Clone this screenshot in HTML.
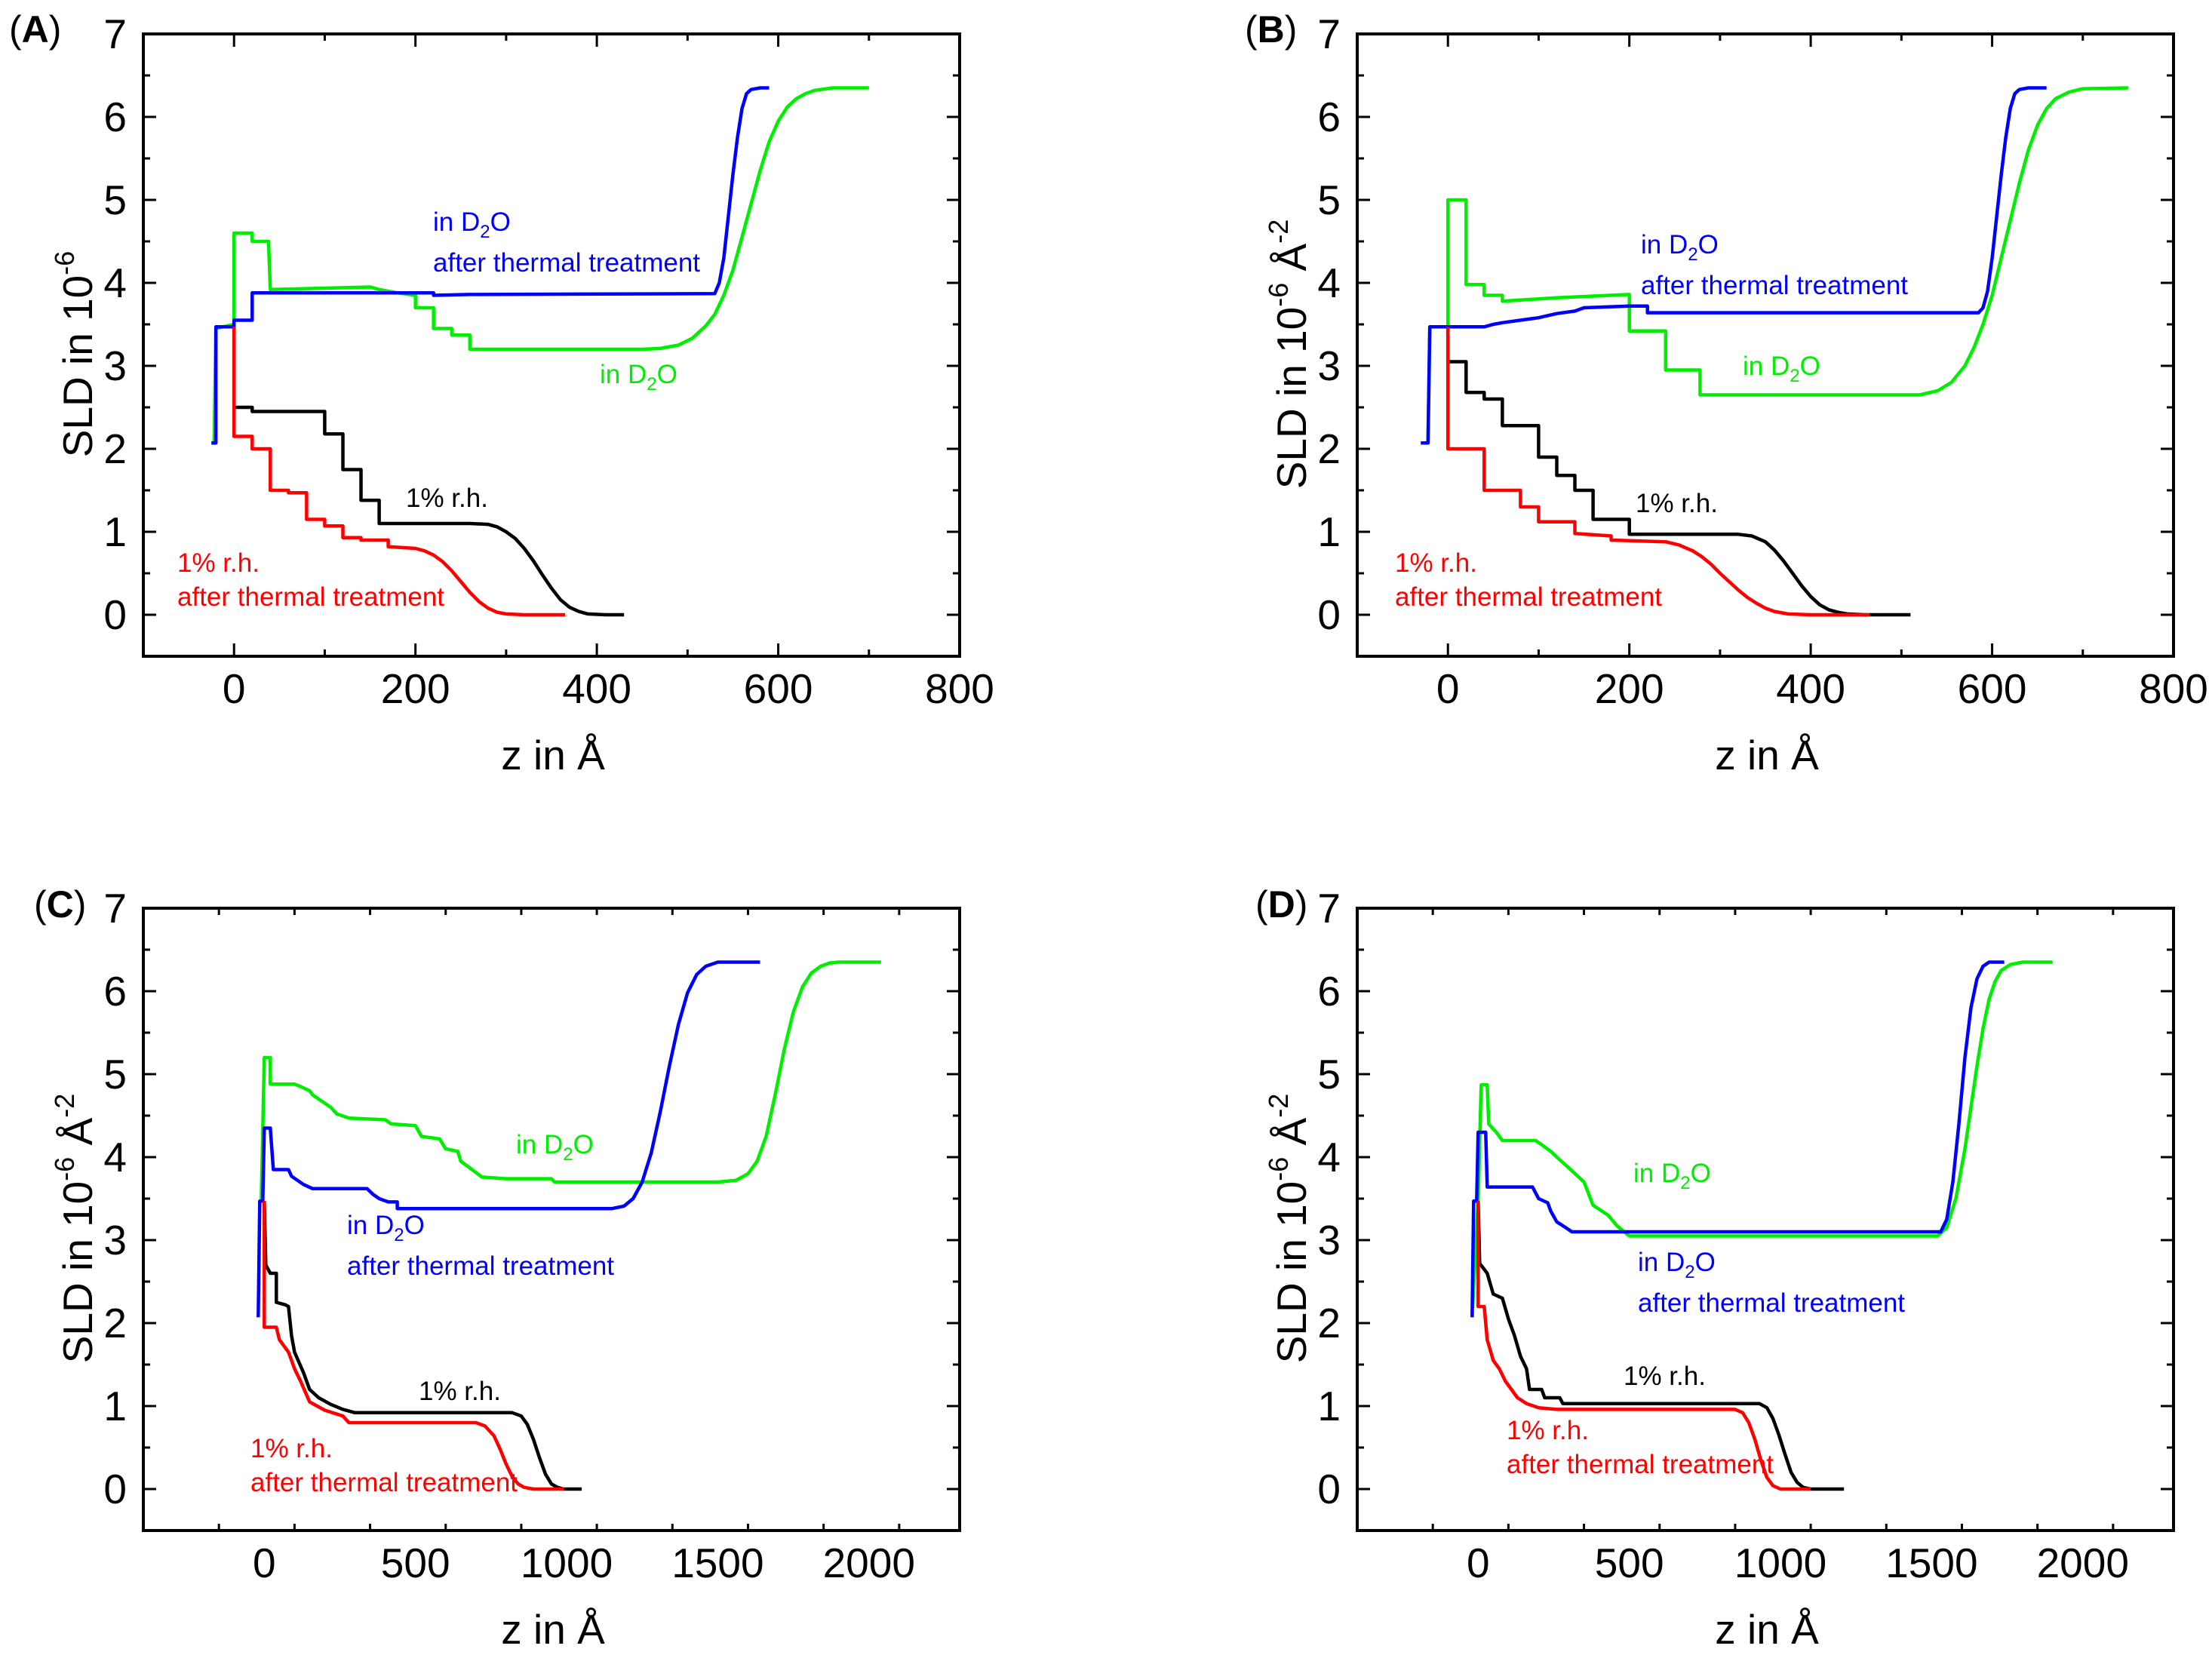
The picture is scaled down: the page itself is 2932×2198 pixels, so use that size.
<!DOCTYPE html>
<html><head><meta charset="utf-8"><style>
html,body{margin:0;padding:0;background:#fff;}
svg{display:block;font-family:"Liberation Sans",sans-serif;}
</style></head><body>
<svg id="fig" width="2932" height="2198" viewBox="0 0 2932 2198" xmlns="http://www.w3.org/2000/svg"></svg>
<script>
// ---------- data (z in Å, SLD in 1e-6 Å^-2) ----------
const A_blueZ=[-25,-20,-20,0,0,20,20,220,220,260,530,535,540,545,550,555,560,565,570,580,590];
const A_blueY=[2.07,2.07,3.47,3.47,3.55,3.55,3.88,3.88,3.85,3.86,3.87,4.0,4.3,4.8,5.3,5.75,6.1,6.28,6.33,6.35,6.35];
const A_greenZ=[-22,-20,0,0,20,20,38,40,150,160,180,200,200,220,220,240,240,260,260,450,470,490,505,520,530,540,550,560,570,580,590,600,610,620,630,640,660,700];
const A_greenY=[2.07,3.45,3.5,4.6,4.6,4.5,4.5,3.92,3.95,3.92,3.88,3.85,3.7,3.7,3.45,3.45,3.37,3.37,3.2,3.2,3.21,3.25,3.33,3.48,3.62,3.85,4.15,4.55,4.95,5.35,5.7,5.95,6.12,6.22,6.28,6.32,6.35,6.35];
const A_blackZ=[0,0,20,20,100,100,120,120,140,140,160,160,260,280,290,300,310,320,330,340,350,360,370,380,390,410,430];
const A_blackY=[3.47,2.5,2.5,2.45,2.45,2.18,2.18,1.75,1.75,1.38,1.38,1.1,1.1,1.09,1.06,1.0,0.92,0.8,0.65,0.48,0.32,0.18,0.09,0.04,0.01,0,0];
const A_redZ=[0,0,20,20,40,40,60,60,80,80,100,100,120,120,140,140,170,170,200,210,220,230,240,250,260,270,280,290,300,320,365];
const A_redY=[3.47,2.15,2.15,2.0,2.0,1.5,1.5,1.47,1.47,1.15,1.15,1.07,1.07,0.93,0.93,0.9,0.9,0.82,0.8,0.77,0.72,0.64,0.53,0.4,0.27,0.16,0.08,0.03,0.01,0,0];

const B_blueZ=[-30,-22,-20,40,50,60,100,120,140,150,200,220,220,585,590,595,600,605,610,615,620,625,630,640,660];
const B_blueY=[2.07,2.07,3.47,3.47,3.5,3.52,3.58,3.63,3.66,3.7,3.72,3.72,3.64,3.64,3.7,3.9,4.3,4.8,5.3,5.75,6.1,6.28,6.33,6.35,6.35];
const B_greenZ=[-22,-20,0,0,20,20,40,40,60,60,120,200,200,240,240,278,278,520,540,555,570,580,590,600,610,620,630,640,650,660,670,685,700,750];
const B_greenY=[2.07,3.47,3.47,5.0,5.0,3.98,3.98,3.85,3.85,3.78,3.82,3.86,3.42,3.42,2.95,2.95,2.65,2.65,2.7,2.8,3.0,3.22,3.5,3.85,4.3,4.75,5.2,5.6,5.9,6.1,6.22,6.3,6.34,6.35];
const B_blackZ=[0,0,20,20,40,40,60,60,100,100,120,120,140,140,160,160,200,200,320,335,350,360,370,380,390,400,410,420,430,440,460,510];
const B_blackY=[3.47,3.05,3.05,2.68,2.68,2.6,2.6,2.28,2.28,1.9,1.9,1.68,1.68,1.5,1.5,1.15,1.15,0.97,0.97,0.95,0.88,0.78,0.65,0.5,0.35,0.22,0.12,0.06,0.03,0.01,0,0];
const B_redZ=[0,0,40,40,80,80,100,100,140,140,180,180,240,255,270,280,290,300,310,320,330,340,350,360,375,400,465];
const B_redY=[3.47,2.0,2.0,1.5,1.5,1.3,1.3,1.12,1.12,0.98,0.95,0.9,0.88,0.84,0.77,0.7,0.61,0.5,0.4,0.3,0.21,0.14,0.08,0.04,0.01,0,0];

const C_greenZ=[-10,0,20,20,100,120,150,160,180,220,240,280,400,420,500,520,580,600,640,650,680,720,800,950,960,1500,1560,1600,1630,1660,1690,1720,1750,1780,1810,1840,1870,1900,2040];
const C_greenY=[3.47,5.2,5.2,4.88,4.88,4.85,4.8,4.75,4.7,4.6,4.52,4.47,4.45,4.4,4.38,4.25,4.22,4.1,4.07,3.95,3.87,3.76,3.74,3.74,3.7,3.7,3.72,3.8,3.95,4.25,4.75,5.3,5.75,6.05,6.22,6.3,6.34,6.35,6.35];
const C_blueZ=[-20,-15,-5,0,20,30,80,90,110,130,160,340,360,380,410,440,440,1150,1190,1220,1250,1280,1310,1340,1370,1400,1430,1460,1500,1640];
const C_blueY=[2.07,3.47,3.47,4.35,4.35,3.85,3.85,3.77,3.72,3.67,3.62,3.62,3.55,3.5,3.46,3.46,3.38,3.38,3.41,3.5,3.7,4.05,4.55,5.1,5.6,5.98,6.2,6.3,6.35,6.35];
const C_blackZ=[0,5,20,40,40,70,80,90,100,130,150,180,220,260,300,820,850,870,890,910,930,950,970,990,1050];
const C_blackY=[3.47,2.7,2.6,2.6,2.25,2.22,2.2,1.85,1.65,1.4,1.2,1.1,1.02,0.96,0.92,0.92,0.88,0.78,0.6,0.38,0.18,0.06,0.02,0,0];
const C_redZ=[0,0,40,50,80,100,120,150,200,260,280,700,730,760,780,800,820,840,860,890,990];
const C_redY=[3.47,1.95,1.95,1.8,1.65,1.45,1.3,1.05,0.95,0.88,0.8,0.8,0.76,0.64,0.48,0.3,0.15,0.06,0.02,0,0];

const D_greenZ=[-20,0,10,30,35,60,80,190,210,240,260,300,350,380,430,460,500,1520,1550,1580,1610,1630,1650,1670,1690,1710,1730,1760,1800,1900];
const D_greenY=[2.07,3.47,4.87,4.87,4.4,4.3,4.2,4.2,4.15,4.07,4.0,3.87,3.7,3.42,3.3,3.17,3.05,3.05,3.15,3.5,4.1,4.6,5.1,5.55,5.9,6.12,6.25,6.32,6.35,6.35];
const D_blueZ=[-20,-15,-5,0,25,30,180,200,230,240,260,290,310,1530,1550,1570,1590,1610,1630,1650,1670,1690,1740];
const D_blueY=[2.07,3.47,3.47,4.3,4.3,3.64,3.64,3.5,3.45,3.35,3.22,3.15,3.1,3.1,3.25,3.7,4.4,5.2,5.8,6.15,6.3,6.35,6.35];
const D_blackZ=[0,5,30,50,80,100,120,140,160,170,210,220,270,280,930,955,975,995,1015,1035,1055,1075,1100,1210];
const D_blackY=[3.47,2.72,2.6,2.35,2.3,2.05,1.85,1.6,1.45,1.2,1.2,1.1,1.1,1.03,1.03,0.98,0.85,0.65,0.42,0.2,0.08,0.02,0,0];
const D_redZ=[0,0,20,30,50,70,90,110,130,160,200,260,850,875,895,915,935,955,975,1000,1100];
const D_redY=[3.47,2.2,2.2,1.8,1.55,1.45,1.3,1.2,1.1,1.03,0.98,0.96,0.96,0.92,0.8,0.6,0.35,0.14,0.04,0,0];

const xTicksAB=[0,200,400,600,800];
const xTicksCD=[0,500,1000,1500,2000];
const yTicks=[0,1,2,3,4,5,6,7];

const NS="http://www.w3.org/2000/svg";
const svg=document.getElementById('fig');
function mk(tag,attrs,parent){const e=document.createElementNS(NS,tag);for(const k in attrs)e.setAttribute(k,attrs[k]);(parent||svg).appendChild(e);return e;}

const COL={blue:'#0000ff',green:'#00ee00',black:'#000000',red:'#ff0000'};

function panel(cfg){
  const g=mk('g',{});
  
  
  const L=cfg.left,R=cfg.left+1082,T=cfg.top,Bm=cfg.top+825;
  const sx=z=>L+(z-cfg.xmin)/(cfg.xmax-cfg.xmin)*(R-L);
  const sy=v=>Bm-(v+0.5)/7.5*(Bm-T);
  cfg.series.forEach(s=>{
    const pts=s.z.map((z,i)=>sx(z).toFixed(1)+','+sy(s.y[i]).toFixed(1)).join(' ');
    const p=mk('polyline',{points:pts,fill:'none',stroke:COL[s.c],'stroke-width':4.5,'stroke-linejoin':'round'},g);
    
    
  });
  const fr=mk('rect',{x:L,y:T,width:R-L,height:Bm-T,fill:'none',stroke:'#000','stroke-width':4},g);
  
  
  const xt=cfg.xticks, step=(xt[1]-xt[0])/2;
  for(let z=cfg.xmin;z<=cfg.xmax+1e-6;z+=step){
    const isMaj=xt.some(t=>Math.abs(t-z)<1e-6);
    const x=sx(z);const len=isMaj?17:9;
    mk('line',{x1:x,y1:Bm,x2:x,y2:Bm-len,stroke:'#000','stroke-width':3},g);
    mk('line',{x1:x,y1:T,x2:x,y2:T+len,stroke:'#000','stroke-width':3},g);
  }
  xt.forEach(t=>{
    const tx=mk('text',{x:sx(t),y:Bm+62,'font-size':55,'text-anchor':'middle'},g);
    tx.textContent=t;
    
    
  });
  for(let v=-0.5;v<=7.001;v+=0.5){
    const isMaj=Math.abs(v-Math.round(v))<1e-6 && v>=0;
    const y=sy(v);const len=isMaj?17:9;
    mk('line',{x1:L,y1:y,x2:L+len,y2:y,stroke:'#000','stroke-width':3},g);
    mk('line',{x1:R,y1:y,x2:R-len,y2:y,stroke:'#000','stroke-width':3},g);
  }
  yTicks.forEach(v=>{
    const tx=mk('text',{x:L-22,y:sy(v)+19,'font-size':55,'text-anchor':'end'},g);
    tx.textContent=v;
    
    
  });
  const xt2=mk('text',{x:(L+R)/2+2,y:Bm+150,'font-size':55,'text-anchor':'middle'},g);
  xt2.textContent='z in Å';
  
  
  const cy=(T+Bm)/2+12;
  const yt=mk('text',{x:0,y:0,'font-size':55,'text-anchor':'middle',transform:`translate(${L-68},${cy}) rotate(-90)`},g);
  yt.innerHTML=cfg.unit?'SLD in 10<tspan dy="-24" font-size="36">-6</tspan><tspan dy="24"> Å</tspan><tspan dy="-24" font-size="36">-2</tspan>':'SLD in 10<tspan dy="-24" font-size="36">-6</tspan>';
  
  
  const pl=mk('text',{x:cfg.lx,y:cfg.ly,'font-size':50},g);
  pl.innerHTML='(<tspan font-weight="bold">'+cfg.id+'</tspan>)';
  
  
  cfg.ann.forEach(a=>{
    const t=mk('text',{x:a[0],y:a[1],'font-size':35,fill:COL[a[2]]},g);
    t.innerHTML=a[3];
    
    
  });
}
const D2O='in D<tspan dy="9" font-size="24">2</tspan><tspan dy="-9">O</tspan>';

panel({id:'A',left:190,top:45,xmin:-100,xmax:800,xticks:xTicksAB,unit:false,lx:12,ly:56,
 series:[{z:A_greenZ,y:A_greenY,c:'green',name:'curve-d2o'},{z:A_blueZ,y:A_blueY,c:'blue',name:'curve-d2o-thermal'},{z:A_blackZ,y:A_blackY,c:'black',name:'curve-1rh'},{z:A_redZ,y:A_redY,c:'red',name:'curve-1rh-thermal'}],
 ann:[[574,306,'blue',D2O,'label-d2o-thermal'],[574,360,'blue','after thermal treatment','label-d2o-thermal-2'],[795,508,'green',D2O,'label-d2o'],[538,672,'black','1% r.h.','label-1rh'],[235,758,'red','1% r.h.','label-1rh-thermal'],[235,803,'red','after thermal treatment','label-1rh-thermal-2']]});
panel({id:'B',left:1799,top:45,xmin:-100,xmax:800,xticks:xTicksAB,unit:true,lx:1650,ly:56,
 series:[{z:B_greenZ,y:B_greenY,c:'green',name:'curve-d2o'},{z:B_blueZ,y:B_blueY,c:'blue',name:'curve-d2o-thermal'},{z:B_blackZ,y:B_blackY,c:'black',name:'curve-1rh'},{z:B_redZ,y:B_redY,c:'red',name:'curve-1rh-thermal'}],
 ann:[[2175,336,'blue',D2O,'label-d2o-thermal'],[2175,390,'blue','after thermal treatment','label-d2o-thermal-2'],[2310,497,'green',D2O,'label-d2o'],[2168,679,'black','1% r.h.','label-1rh'],[1849,758,'red','1% r.h.','label-1rh-thermal'],[1849,803,'red','after thermal treatment','label-1rh-thermal-2']]});
panel({id:'C',left:190,top:1204,xmin:-400,xmax:2300,xticks:xTicksCD,unit:true,lx:45,ly:1216,
 series:[{z:C_greenZ,y:C_greenY,c:'green',name:'curve-d2o'},{z:C_blueZ,y:C_blueY,c:'blue',name:'curve-d2o-thermal'},{z:C_blackZ,y:C_blackY,c:'black',name:'curve-1rh'},{z:C_redZ,y:C_redY,c:'red',name:'curve-1rh-thermal'}],
 ann:[[684,1529,'green',D2O,'label-d2o'],[460,1636,'blue',D2O,'label-d2o-thermal'],[460,1690,'blue','after thermal treatment','label-d2o-thermal-2'],[555,1856,'black','1% r.h.','label-1rh'],[332,1932,'red','1% r.h.','label-1rh-thermal'],[332,1977,'red','after thermal treatment','label-1rh-thermal-2']]});
panel({id:'D',left:1799,top:1204,xmin:-400,xmax:2300,xticks:xTicksCD,unit:true,lx:1664,ly:1216,
 series:[{z:D_greenZ,y:D_greenY,c:'green',name:'curve-d2o'},{z:D_blueZ,y:D_blueY,c:'blue',name:'curve-d2o-thermal'},{z:D_blackZ,y:D_blackY,c:'black',name:'curve-1rh'},{z:D_redZ,y:D_redY,c:'red',name:'curve-1rh-thermal'}],
 ann:[[2165,1567,'green',D2O,'label-d2o'],[2171,1685,'blue',D2O,'label-d2o-thermal'],[2171,1739,'blue','after thermal treatment','label-d2o-thermal-2'],[2152,1836,'black','1% r.h.','label-1rh'],[1997,1908,'red','1% r.h.','label-1rh-thermal'],[1997,1953,'red','after thermal treatment','label-1rh-thermal-2']]});
</script>
</body></html>
